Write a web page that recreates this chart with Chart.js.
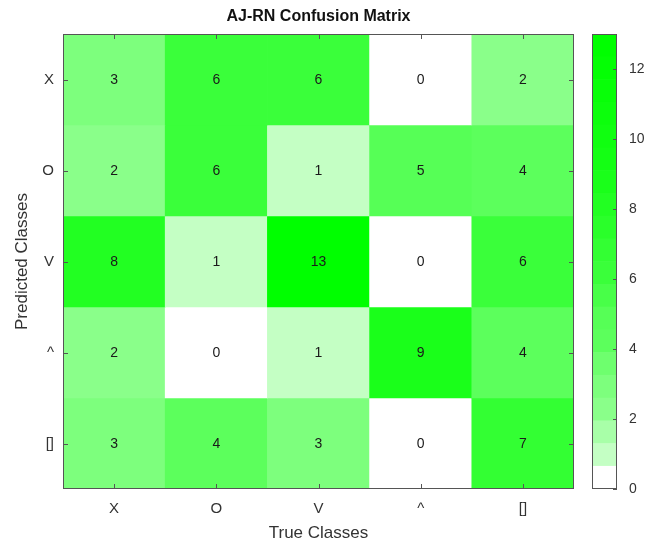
<!DOCTYPE html>
<html>
<head>
<meta charset="utf-8">
<title>AJ-RN Confusion Matrix</title>
<script src="https://cdn.jsdelivr.net/npm/chart.js@4/dist/chart.umd.min.js"></script>
<style>
  html, body { margin: 0; padding: 0; background: #fff; }
  #wrap { position: relative; width: 659px; height: 550px; }
  #matrixChart { position: absolute; left: 0; top: 0; }
  #barChart { position: absolute; left: 585px; top: 0; }
</style>
</head>
<body>
<div id="wrap">
  <canvas id="matrixChart" width="659" height="550"></canvas>
  <canvas id="barChart" width="74" height="550"></canvas>
</div>
<script>
// Class labels
const trueClasses = ["X", "O", "V", "^", "[]"];
const predictedClasses = ["X", "O", "V", "^", "[]"];

// Counts, one row per predicted class
const rowX = [3, 6, 6, 0, 2];
const rowO = [2, 6, 1, 5, 4];
const rowV = [8, 1, 13, 0, 6];
const rowCaret = [2, 0, 1, 9, 4];
const rowBox = [3, 4, 3, 0, 7];
const counts = [rowX, rowO, rowV, rowCaret, rowBox];

// Colour scale range and colorbar ticks
const colorMin = 0;
const colorMax = 13;
const colorbarTicks = [0, 2, 4, 6, 8, 10, 12];

// White -> green colormap (red/blue channel for each level)
const colormapLevels = [255, 196, 168, 138, 125, 110, 92, 86, 72, 58, 51, 42, 34, 26, 20, 16, 12, 8, 4, 0];

const textColor = "#333";
const axisColor = "#555";
const fontFamily = "'Liberation Sans', Arial, Helvetica, sans-serif";

function levelColor(k) {
    const c = colormapLevels[k];
    return `rgb(${c},255,${c})`;
}

function colorFor(value) {
    const n = colormapLevels.length;
    let k = Math.floor((value - colorMin) / (colorMax - colorMin) * n);
    k = Math.max(0, Math.min(n - 1, k));
    return levelColor(k);
}

// Cell numbers, box, tick marks and title for the matrix
const matrixDecor = {
    id: "matrixDecor",
    afterDatasetsDraw(chart) {
        const ctx = chart.ctx;
        const xs = chart.scales.x;
        const ys = chart.scales.y;
        ctx.save();
        ctx.fillStyle = "#1a1a1a";
        ctx.font = `14px ${fontFamily}`;
        ctx.textAlign = "center";
        ctx.textBaseline = "middle";
        counts.forEach((row, i) => {
            row.forEach((v, j) => {
                ctx.fillText(String(v), xs.getPixelForValue(j), ys.getPixelForValue(i + 0.5) + 1);
            });
        });
        ctx.restore();
    },
    afterDraw(chart) {
        const ctx = chart.ctx;
        const a = chart.chartArea;
        const xs = chart.scales.x;
        const ys = chart.scales.y;
        ctx.save();
        ctx.strokeStyle = axisColor;
        ctx.lineWidth = 1;
        ctx.strokeRect(Math.round(a.left) + 0.5, Math.round(a.top) + 0.5,
            Math.round(a.right - a.left) - 1, Math.round(a.bottom - a.top) - 1);
        ctx.beginPath();
        trueClasses.forEach((c, j) => {
            const x = Math.round(xs.getPixelForValue(j)) + 0.5;
            ctx.moveTo(x, a.top); ctx.lineTo(x, a.top + 5);
            ctx.moveTo(x, a.bottom); ctx.lineTo(x, a.bottom - 5);
        });
        predictedClasses.forEach((c, i) => {
            const y = Math.round(ys.getPixelForValue(i + 0.5)) + 0.5;
            ctx.moveTo(a.left, y); ctx.lineTo(a.left + 5, y);
            ctx.moveTo(a.right, y); ctx.lineTo(a.right - 5, y);
        });
        ctx.stroke();
        // title, centred on the plot box
        ctx.fillStyle = "#111";
        ctx.font = `bold 16px ${fontFamily}`;
        ctx.textAlign = "center";
        ctx.textBaseline = "middle";
        ctx.fillText("AJ-RN Confusion Matrix", (a.left + a.right) / 2, 17);
        ctx.restore();
    }
};

const matrixDatasets = counts.map((row, i) => ({
    label: predictedClasses[i],
    data: trueClasses.map(() => [i, i + 1]),
    backgroundColor: row.map(colorFor),
    borderWidth: 0,
    grouped: false,
    barPercentage: 1,
    categoryPercentage: 1,
}));

new Chart(document.getElementById("matrixChart"), {
    type: "bar",
    data: { labels: trueClasses, datasets: matrixDatasets },
    options: {
        responsive: false,
        animation: false,
        layout: { padding: { top: 34, right: 85, bottom: 0, left: 0 } },
        plugins: { legend: { display: false }, tooltip: { enabled: false }, title: { display: false } },
        scales: {
            x: {
                type: "category",
                grid: { display: false },
                border: { display: false },
                ticks: { color: textColor, font: { size: 15, family: fontFamily }, padding: 3, maxRotation: 0 },
                title: { display: true, text: "True Classes", color: textColor,
                    font: { size: 17, family: fontFamily }, padding: { top: 4, bottom: 6 } },
                afterFit(scale) { scale.height = 61; }
            },
            y: {
                type: "linear",
                min: 0,
                max: predictedClasses.length,
                reverse: true,
                grid: { display: false },
                border: { display: false },
                afterBuildTicks(scale) {
                    scale.ticks = predictedClasses.map((c, i) => ({ value: i + 0.5 }));
                },
                ticks: {
                    color: textColor,
                    font: { size: 15, family: fontFamily },
                    padding: 1,
                    callback: (value, index) => predictedClasses[index]
                },
                title: { display: true, text: "Predicted Classes", color: textColor,
                    font: { size: 17, family: fontFamily }, padding: { top: 12, bottom: 4 } },
                afterFit(scale) { scale.width = 63; }
            }
        }
    },
    plugins: [matrixDecor]
});

// Colorbar: one floating bar per colormap level
const levelStep = (colorMax - colorMin) / colormapLevels.length;
const barDatasets = colormapLevels.map((c, k) => ({
    data: [[colorMin + k * levelStep, colorMin + (k + 1) * levelStep]],
    backgroundColor: levelColor(k),
    borderWidth: 0,
    grouped: false,
    barPercentage: 1,
    categoryPercentage: 1,
}));

const barDecor = {
    id: "barDecor",
    afterDraw(chart) {
        const ctx = chart.ctx;
        const a = chart.chartArea;
        const ys = chart.scales.y;
        ctx.save();
        ctx.strokeStyle = axisColor;
        ctx.lineWidth = 1;
        ctx.strokeRect(Math.round(a.left) + 0.5, Math.round(a.top) + 0.5,
            Math.round(a.right - a.left) - 1, Math.round(a.bottom - a.top) - 1);
        ctx.beginPath();
        colorbarTicks.forEach(t => {
            const y = Math.round(ys.getPixelForValue(t)) + 0.5;
            ctx.moveTo(a.right, y); ctx.lineTo(a.right - 4, y);
        });
        ctx.stroke();
        ctx.restore();
    }
};

new Chart(document.getElementById("barChart"), {
    type: "bar",
    data: { labels: [""], datasets: barDatasets },
    options: {
        responsive: false,
        animation: false,
        layout: { padding: { top: 34, right: 0, bottom: 61, left: 7 } },
        plugins: { legend: { display: false }, tooltip: { enabled: false } },
        scales: {
            x: { display: false },
            y: {
                position: "right",
                min: colorMin,
                max: colorMax,
                grid: { display: false },
                border: { display: false },
                afterBuildTicks(scale) {
                    scale.ticks = colorbarTicks.map(v => ({ value: v }));
                },
                ticks: { color: textColor, font: { size: 14, family: fontFamily }, padding: 4 },
                afterFit(scale) { scale.width = 42; }
            }
        }
    },
    plugins: [barDecor]
});
</script>
</body>
</html>
